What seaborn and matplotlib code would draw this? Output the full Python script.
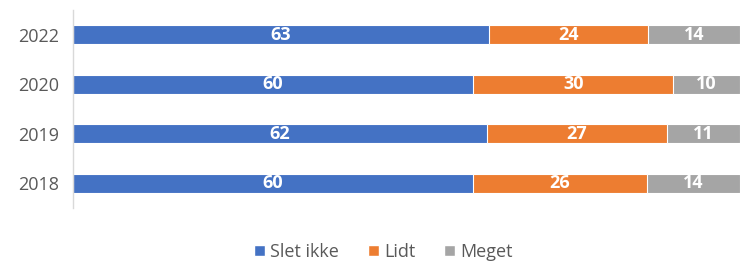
import matplotlib
matplotlib.use("Agg")
import matplotlib.pyplot as plt
import seaborn as sns
import pandas as pd
import numpy as np
from matplotlib.patches import Patch

years = ["2022", "2020", "2019", "2018"]
slet_ikke = [63, 60, 62, 60]
lidt = [24, 30, 27, 26]
meget = [14, 10, 11, 14]
series_names = ["Slet ikke", "Lidt", "Meget"]
colors = ["#4472C4", "#ED7D31", "#A5A5A5"]

sns.set_theme(style="white")
plt.rcParams['font.family'] = ['Open Sans', 'DejaVu Sans']

df = pd.DataFrame({"year": years, "Slet ikke": slet_ikke, "Lidt": lidt, "Meget": meget})
total = df[series_names].sum(axis=1)
# 100% stacked: share of each row
share = df[series_names].div(total, axis=0) * 100
cum = share.cumsum(axis=1)
cum["year"] = years

fig = plt.figure(figsize=(7.4, 2.61), dpi=100)
ax = fig.add_axes([0.0986, 0.203, 0.9014, 0.759])

# draw cumulative bars from the widest one down so they appear stacked
for name, col in zip(reversed(series_names), reversed(colors)):
    sns.barplot(data=cum, x=name, y="year", order=years, orient="h",
                color=col, saturation=1, width=0.39, edgecolor="white",
                linewidth=0.8, ax=ax)

for i, y in enumerate(years):
    left = 0
    for name in series_names:
        w = share.loc[i, name]
        ax.text(left + w / 2, i, str(df.loc[i, name]), ha="center", va="center",
                color="white", fontsize=13, fontweight="bold")
        left += w

ax.set_xlim(0, 100)
ax.set_ylim(3.5, -0.5)
ax.set_xlabel("")
ax.set_ylabel("")
ax.set_xticks([])
ax.tick_params(axis="y", length=0, labelsize=13, labelcolor="#595959", pad=10)
for s in ["top", "right", "bottom"]:
    ax.spines[s].set_visible(False)
ax.spines["left"].set_color("#D9D9D9")
ax.spines["left"].set_linewidth(1)

handles = [Patch(facecolor=c, label=n) for n, c in zip(series_names, colors)]
fig.legend(handles=handles, loc="center", bbox_to_anchor=(0.518, 0.035), ncol=3,
           frameon=False, fontsize=13, handlelength=0.6, handleheight=0.6,
           handletextpad=0.3, columnspacing=1.6, labelcolor="#595959")

fig.savefig("out.png", dpi=100)
